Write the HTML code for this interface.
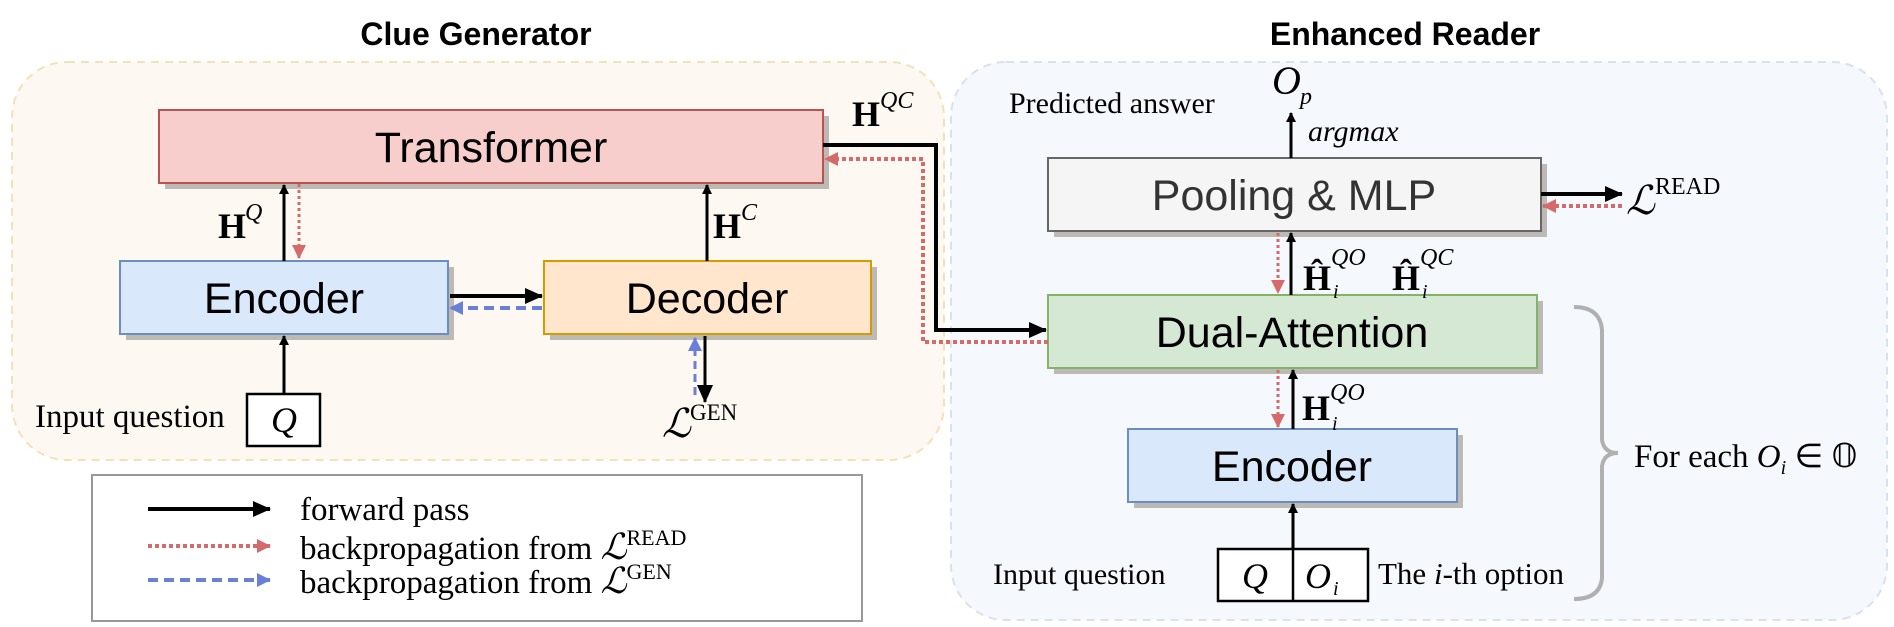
<!DOCTYPE html>
<html><head><meta charset="utf-8"><style>
html,body{margin:0;padding:0;background:#fff;}
svg{display:block;}
.s{font-family:"Liberation Sans",sans-serif;}
.m{font-family:"Liberation Serif",serif;}
</style></head><body>
<svg width="1894" height="627" viewBox="0 0 1894 627" xmlns="http://www.w3.org/2000/svg">
<defs>
<marker id="ab" markerWidth="10" markerHeight="10" refX="9" refY="5" orient="auto" markerUnits="userSpaceOnUse"><path d="M0,0 L10,5 L0,10z" fill="#000"/></marker>
<marker id="abk" markerWidth="18" markerHeight="16" refX="17" refY="8" orient="auto" markerUnits="userSpaceOnUse"><path d="M0,0 L18,8 L0,16z" fill="#000"/></marker>
<marker id="ar" markerWidth="14" markerHeight="14" refX="13" refY="7" orient="auto" markerUnits="userSpaceOnUse"><path d="M0,0 L14,7 L0,14z" fill="#d46a6a"/></marker>
<marker id="abl" markerWidth="14" markerHeight="14" refX="13" refY="7" orient="auto" markerUnits="userSpaceOnUse"><path d="M0,0 L14,7 L0,14z" fill="#6a7fd8"/></marker>
</defs>

<rect x="12" y="62" width="932" height="398" rx="55" fill="#fdf8f1" stroke="#f3e2b8" stroke-width="2" stroke-dasharray="8,6"/>
<rect x="951" y="62" width="936" height="558" rx="55" fill="#f5f8fc" stroke="#d8e2ee" stroke-width="2" stroke-dasharray="8,6"/>

<text x="476" y="45" class="s" font-size="32" font-weight="bold" text-anchor="middle">Clue Generator</text>
<text x="1405" y="45" class="s" font-size="32" font-weight="bold" text-anchor="middle">Enhanced Reader</text>

<g fill="#bdbab5">
<rect x="165" y="116" width="664" height="73"/>
<rect x="126" y="267" width="328" height="73"/>
<rect x="550" y="267" width="327" height="73"/>
<rect x="1054" y="164" width="493" height="73"/>
<rect x="1054" y="301" width="489" height="73"/>
<rect x="1134" y="435" width="329" height="73"/>
</g>
<rect x="159" y="110" width="664" height="73" fill="#f8cecc" stroke="#b85450" stroke-width="2"/>
<text x="491" y="162" class="s" font-size="43" text-anchor="middle">Transformer</text>
<rect x="120" y="261" width="328" height="73" fill="#dae8fc" stroke="#6c8ebf" stroke-width="2"/>
<text x="284" y="313" class="s" font-size="43" text-anchor="middle">Encoder</text>
<rect x="544" y="261" width="327" height="73" fill="#ffe6cc" stroke="#d79b00" stroke-width="2"/>
<text x="707" y="313" class="s" font-size="43" text-anchor="middle">Decoder</text>
<rect x="1048" y="158" width="493" height="73" fill="#f5f5f5" stroke="#666" stroke-width="2"/>
<text x="1294" y="210" class="s" font-size="43" text-anchor="middle" fill="#333">Pooling &amp; MLP</text>
<rect x="1048" y="295" width="489" height="73" fill="#d5e8d4" stroke="#82b366" stroke-width="2"/>
<text x="1292" y="347" class="s" font-size="43" text-anchor="middle">Dual-Attention</text>
<rect x="1128" y="429" width="329" height="73" fill="#dae8fc" stroke="#6c8ebf" stroke-width="2"/>
<text x="1292" y="481" class="s" font-size="43" text-anchor="middle">Encoder</text>

<rect x="247" y="394" width="73" height="52" fill="#fff" stroke="#000" stroke-width="2.5"/>
<text x="284" y="432" class="m" font-size="36" font-style="italic" text-anchor="middle">Q</text>
<text x="35" y="427" class="m" font-size="33">Input question</text>
<line x1="284" y1="394" x2="284" y2="336" stroke="#000" stroke-width="3" marker-end="url(#ab)"/>

<line x1="284" y1="261" x2="284" y2="185" stroke="#000" stroke-width="3" marker-end="url(#ab)"/>
<line x1="299" y1="184" x2="299" y2="258" stroke="#d46a6a" stroke-width="3" stroke-dasharray="3,3" marker-end="url(#ar)"/>
<text x="218" y="238" class="m" font-size="36" font-weight="bold">H</text>
<text x="245" y="220" class="m" font-size="24" font-style="italic">Q</text>
<line x1="707" y1="261" x2="707" y2="185" stroke="#000" stroke-width="3" marker-end="url(#ab)"/>
<text x="713" y="238" class="m" font-size="36" font-weight="bold">H</text>
<text x="741" y="220" class="m" font-size="24" font-style="italic">C</text>
<line x1="450" y1="296" x2="542" y2="296" stroke="#000" stroke-width="4" marker-end="url(#abk)"/>
<line x1="542" y1="308" x2="450" y2="308" stroke="#6a7fd8" stroke-width="4" stroke-dasharray="10,6" marker-end="url(#abl)"/>
<line x1="705" y1="336" x2="705" y2="402" stroke="#000" stroke-width="3" marker-end="url(#abk)"/>
<line x1="695" y1="395" x2="695" y2="338" stroke="#6a7fd8" stroke-width="3" stroke-dasharray="8,5" marker-end="url(#abl)"/>
<text x="662" y="437" class="m" font-size="40" font-style="italic">ℒ</text>
<text x="690" y="420" class="m" font-size="23">GEN</text>

<polyline points="823,145 936,145 936,330 1046,330" fill="none" stroke="#000" stroke-width="4" marker-end="url(#abk)"/>
<polyline points="1048,342 923,342 923,159 825,159" fill="none" stroke="#d46a6a" stroke-width="4" stroke-dasharray="4,3" marker-end="url(#ar)"/>
<text x="852" y="126" class="m" font-size="36" font-weight="bold">H</text>
<text x="880" y="108" class="m" font-size="24" font-style="italic">QC</text>

<line x1="1291" y1="158" x2="1291" y2="113" stroke="#000" stroke-width="3" marker-end="url(#ab)"/>
<text x="1308" y="141" class="m" font-size="30" font-style="italic">argmax</text>
<text x="1009" y="113" class="m" font-size="30">Predicted answer</text>
<text x="1272" y="94" class="m" font-size="40" font-style="italic">O</text>
<text x="1300" y="104" class="m" font-size="24" font-style="italic">p</text>

<line x1="1541" y1="194" x2="1622" y2="194" stroke="#000" stroke-width="4" marker-end="url(#abk)"/>
<line x1="1622" y1="206" x2="1543" y2="206" stroke="#d46a6a" stroke-width="4" stroke-dasharray="4,3" marker-end="url(#ar)"/>
<text x="1626" y="214" class="m" font-size="40" font-style="italic">ℒ</text>
<text x="1655" y="194" class="m" font-size="24">READ</text>

<line x1="1291" y1="295" x2="1291" y2="233" stroke="#000" stroke-width="3" marker-end="url(#ab)"/>
<line x1="1278" y1="233" x2="1278" y2="293" stroke="#d46a6a" stroke-width="3" stroke-dasharray="3,3" marker-end="url(#ar)"/>
<text x="1303" y="290" class="m" font-size="36" font-weight="bold">Ĥ</text>
<text x="1331" y="265" class="m" font-size="24" font-style="italic">QO</text>
<text x="1333" y="298" class="m" font-size="20" font-style="italic">i</text>
<text x="1392" y="290" class="m" font-size="36" font-weight="bold">Ĥ</text>
<text x="1420" y="265" class="m" font-size="24" font-style="italic">QC</text>
<text x="1422" y="298" class="m" font-size="20" font-style="italic">i</text>

<line x1="1293" y1="429" x2="1293" y2="370" stroke="#000" stroke-width="3" marker-end="url(#ab)"/>
<line x1="1278" y1="370" x2="1278" y2="427" stroke="#d46a6a" stroke-width="3" stroke-dasharray="3,3" marker-end="url(#ar)"/>
<text x="1302" y="420" class="m" font-size="36" font-weight="bold">H</text>
<text x="1330" y="400" class="m" font-size="24" font-style="italic">QO</text>
<text x="1332" y="430" class="m" font-size="20" font-style="italic">i</text>

<rect x="1218" y="549" width="150" height="52" fill="#fff" stroke="#000" stroke-width="2.5"/>
<line x1="1293" y1="549" x2="1293" y2="601" stroke="#000" stroke-width="2.5"/>
<line x1="1293" y1="549" x2="1293" y2="504" stroke="#000" stroke-width="3" marker-end="url(#ab)"/>
<text x="1255" y="588" class="m" font-size="36" font-style="italic" text-anchor="middle">Q</text>
<text x="1305" y="588" class="m" font-size="36" font-style="italic">O</text>
<text x="1333" y="595" class="m" font-size="20" font-style="italic">i</text>
<text x="993" y="584" class="m" font-size="30">Input question</text>
<text x="1378" y="584" class="m" font-size="31">The <tspan font-style="italic">i</tspan>-th option</text>

<path d="M1574,307 Q1600,307 1602,330 L1602,440 Q1604,453 1618,453 Q1604,453 1602,466 L1602,578 Q1600,599 1574,599" fill="none" stroke="#b0b0b0" stroke-width="4"/>
<text x="1634" y="467" class="m" font-size="33">For each <tspan font-style="italic">O</tspan><tspan font-size="20" font-style="italic" dy="7">i</tspan><tspan dy="-7"> ∈ 𝕆</tspan></text>

<rect x="92" y="475" width="770" height="146" fill="#fff" stroke="#999" stroke-width="2"/>
<line x1="148" y1="509" x2="270" y2="509" stroke="#000" stroke-width="4" marker-end="url(#abk)"/>
<line x1="148" y1="546" x2="270" y2="546" stroke="#d46a6a" stroke-width="4" stroke-dasharray="4,3" marker-end="url(#ar)"/>
<line x1="148" y1="580" x2="270" y2="580" stroke="#6a7fd8" stroke-width="4" stroke-dasharray="10,6" marker-end="url(#abl)"/>
<text x="300" y="520" class="m" font-size="33">forward pass</text>
<text x="300" y="559" class="m" font-size="33">backpropagation from <tspan font-style="italic" font-size="36">ℒ</tspan><tspan font-size="22" dy="-14">READ</tspan></text>
<text x="300" y="593" class="m" font-size="33">backpropagation from <tspan font-style="italic" font-size="36">ℒ</tspan><tspan font-size="22" dy="-14">GEN</tspan></text>
</svg>
</body></html>
